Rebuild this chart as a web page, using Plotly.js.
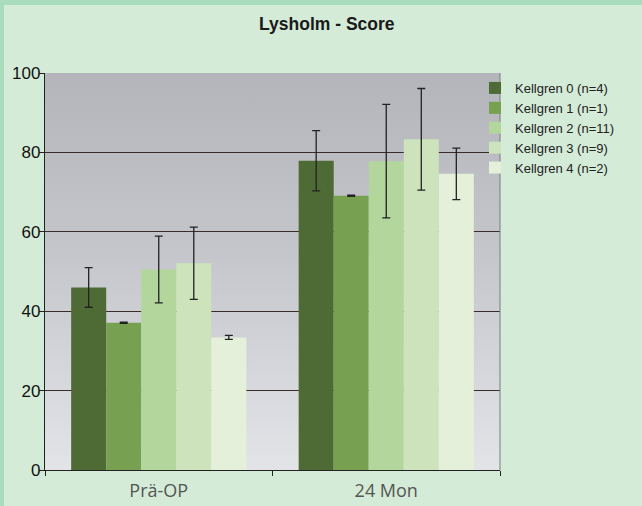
<!DOCTYPE html>
<html>
<head>
<meta charset="utf-8">
<script src="https://cdn.plot.ly/plotly-3.0.1.min.js"></script>
<style>
html,body{margin:0;padding:0;width:642px;height:506px;overflow:hidden;background:#a9dbbd;}
#chart{position:absolute;left:4px;top:5px;width:638px;height:501px;}
</style>
</head>
<body>
<div id="chart"></div>
<script>
const categories = ["Prä-OP", "24 Mon"];
const seriesNames = ["Kellgren 0 (n=4)", "Kellgren 1 (n=1)", "Kellgren 2 (n=11)", "Kellgren 3 (n=9)", "Kellgren 4 (n=2)"];
const k0 = [46, 77.9];
const k1 = [37.1, 69.1];
const k2 = [50.5, 77.8];
const k3 = [52.1, 83.3];
const k4 = [33.4, 74.6];
const k0Err = [5.0, 7.6];
const k1Err = [0.15, 0.15];
const k2Err = [8.4, 14.3];
const k3Err = [9.1, 12.8];
const k4Err = [0.5, 6.5];
const yTicks = [0, 20, 40, 60, 80, 100];

const values = [k0, k1, k2, k3, k4];
const errors = [k0Err, k1Err, k2Err, k3Err, k4Err];
const colors = ["#4f6b35", "#77a050", "#b3d69c", "#cde3bb", "#e4f0d9"];

const traces = values.map((v, i) => ({
  type: "bar",
  name: seriesNames[i],
  x: categories,
  y: v,
  marker: {color: colors[i], line: {width: 0}},
  error_y: {type: "data", array: errors[i], visible: true, color: "#222222", thickness: 1.3, width: 4},
  hoverinfo: "none"
}));

const grad = '<svg xmlns="http://www.w3.org/2000/svg" width="100" height="100" preserveAspectRatio="none">' +
  '<defs><linearGradient id="g" x1="0" y1="0" x2="0" y2="1">' +
  '<stop offset="0" stop-color="#b3b5bb"/><stop offset="0.45" stop-color="#c4c6cb"/>' +
  '<stop offset="1" stop-color="#e2e4e8"/></linearGradient></defs>' +
  '<rect width="100" height="100" fill="url(#g)"/></svg>';

const layout = {
  width: 638, height: 501,
  paper_bgcolor: "#d4ebd7",
  plot_bgcolor: "rgba(0,0,0,0)",
  margin: {l: 41, r: 142, t: 68, b: 36},
  title: {text: "<b>Lysholm - Score</b>", x: 0.506, xanchor: "center", y: 0.962, yanchor: "middle",
    font: {family: "Liberation Sans, Arial, sans-serif", size: 17.5, color: "#1a1a1a"}},
  barmode: "group",
  bargap: 0.23,
  bargroupgap: 0,
  showlegend: true,
  legend: {x: 0.945, xanchor: "left", y: 1.0, yanchor: "top", bgcolor: "rgba(0,0,0,0)",
    font: {family: "Liberation Sans, Arial, sans-serif", size: 13, color: "#222"},
    itemwidth: 30, tracegroupgap: 0, traceorder: "normal"},
  xaxis: {
    showgrid: false, showline: true, linecolor: "#222", linewidth: 1.2,
    ticks: "outside", ticklen: 5, tickcolor: "#222", tickson: "boundaries",
    ticklabelstandoff: 4,
    tickfont: {family: "Open Sans, sans-serif", size: 18, color: "#555555"},
    zeroline: false
  },
  yaxis: {
    range: [0, 100], tickvals: yTicks, ticktext: yTicks.map(String),
    showgrid: true, gridcolor: "#3a2c28", gridwidth: 1,
    showline: true, linecolor: "#222", linewidth: 1.2,
    ticks: "outside", ticklen: 5, tickcolor: "#222",
    ticklabelstandoff: -5,
    tickfont: {family: "Liberation Sans, Arial, sans-serif", size: 17, color: "#111"},
    zeroline: false
  },
  images: [{
    source: "data:image/svg+xml;charset=utf-8," + encodeURIComponent(grad),
    xref: "paper", yref: "paper", x: 0, y: 1, sizex: 1, sizey: 1,
    sizing: "stretch", layer: "below", xanchor: "left", yanchor: "top"
  }],
  shapes: [{type: "line", xref: "paper", yref: "paper", x0: 1, x1: 1, y0: 0, y1: 1,
    line: {color: "#7a7a7a", width: 1}}]
};

Plotly.newPlot("chart", traces, layout, {displayModeBar: false, staticPlot: true});
</script>
</body>
</html>
